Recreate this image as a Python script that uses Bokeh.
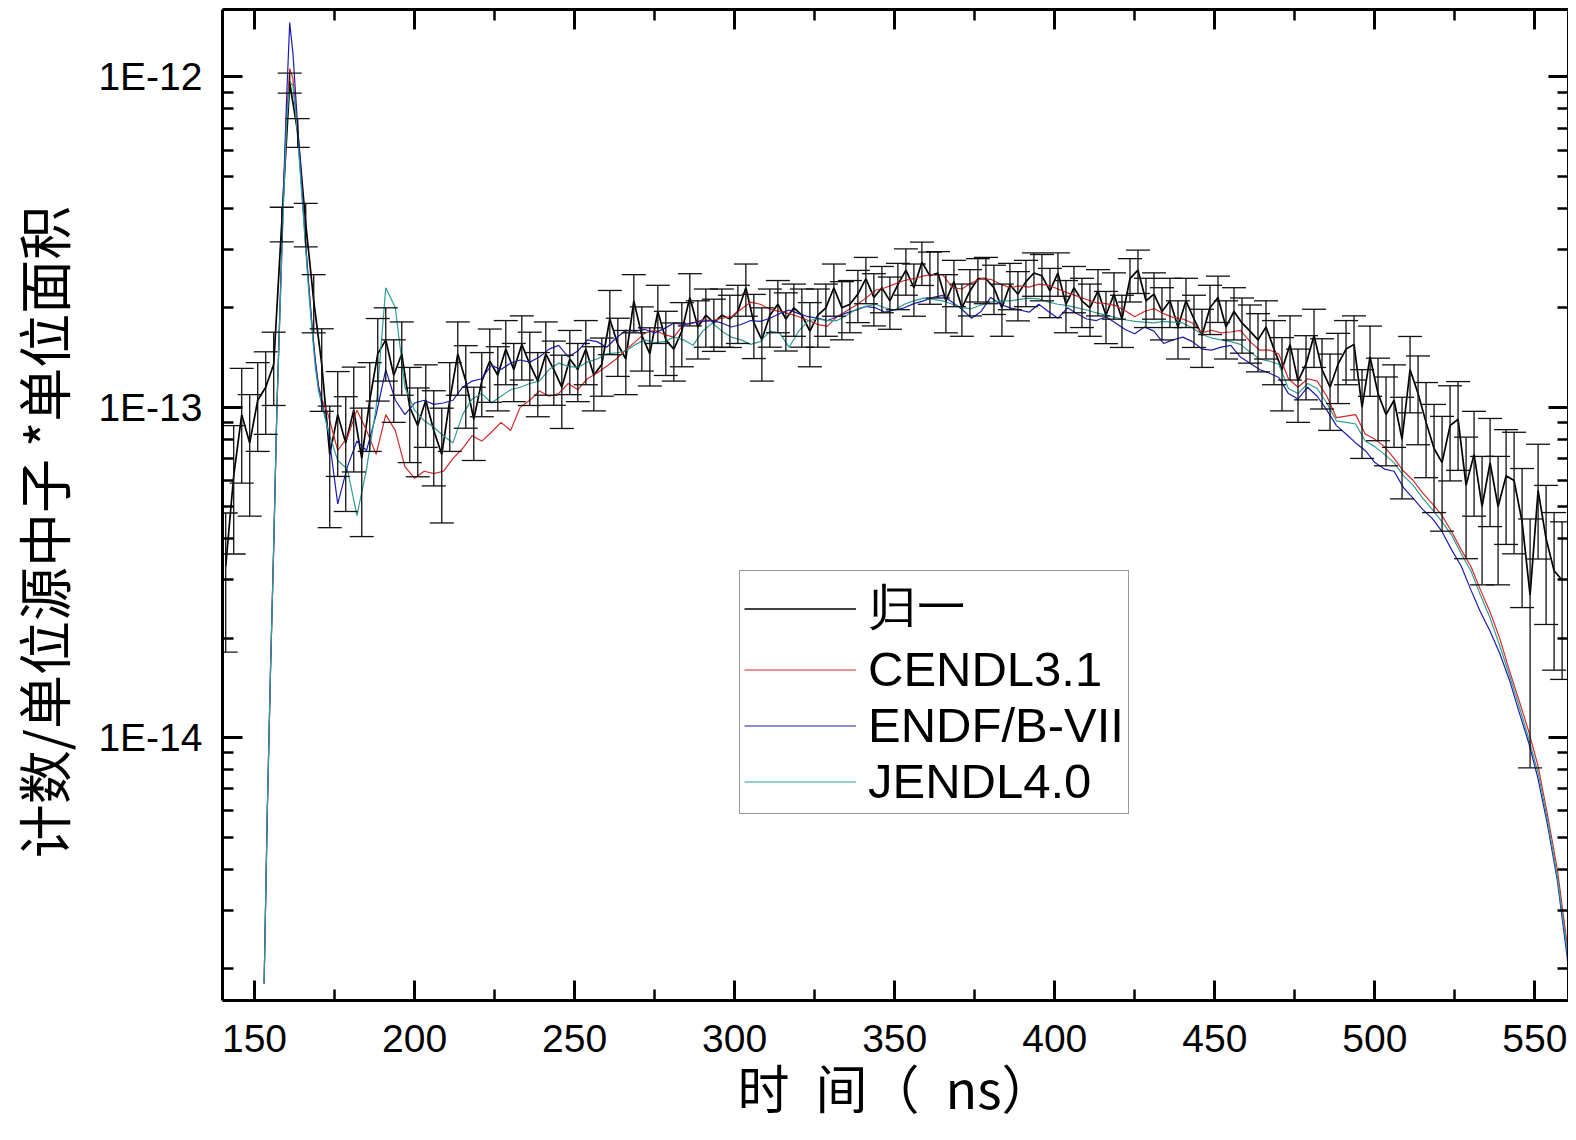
from bokeh.plotting import figure
from bokeh.models import (ColumnDataSource, Whisker, TeeHead, Legend, LegendItem,
                          LinearAxis, LogAxis, FixedTicker, CustomJSTickFormatter,
                          Range1d, SingleIntervalTicker)
from bokeh.embed import file_html
from bokeh.resources import INLINE

UNIT = 1e-13  # values below are given in units of 1E-13

# ---------------- experimental ("归一") ----------------
exp_x = [141 + 2.5 * i for i in range(168)]
exp_v = [
    0.33, 0.62, 0.95, 0.78, 1.05, 1.15, 1.35, 3.6, 9.6, 6.8,
    3.6, 2.1, 1.35, 0.72, 0.95, 0.78, 0.98, 0.70, 1.05, 1.45,
    1.60, 1.25, 1.45, 1.00, 0.88, 1.05, 0.85, 0.72, 1.05, 1.45,
    1.20, 0.92, 1.20, 1.38, 1.25, 1.50, 1.30, 1.55, 1.35, 1.20,
    1.45, 1.30, 1.15, 1.40, 1.30, 1.50, 1.25, 1.35, 1.85, 1.55,
    1.40, 2.10, 1.65, 1.45, 1.95, 1.60, 1.50, 1.70, 2.15, 1.75,
    1.90, 1.80, 1.90, 1.85, 1.95, 2.30, 1.80, 1.60, 1.90, 2.05,
    1.85, 2.00, 1.90, 1.70, 1.90, 2.00, 2.30, 2.00, 2.05, 2.20,
    2.45, 2.15, 2.30, 2.10, 2.35, 2.60, 2.30, 2.75, 2.50, 2.55,
    2.10, 2.40, 2.00, 2.25, 2.45, 2.45, 2.30, 2.00, 2.35, 2.20,
    2.40, 2.55, 2.50, 2.25, 2.55, 2.05, 2.30, 2.10, 2.00, 2.25,
    1.90, 2.20, 1.85, 2.45, 2.60, 2.10, 2.20, 1.95, 2.10, 1.75,
    2.10, 1.85, 1.65, 2.00, 2.15, 1.75, 1.95, 1.80, 1.70, 1.60,
    1.75, 1.50, 1.30, 1.55, 1.20, 1.35, 1.65, 1.30, 1.15, 1.35,
    1.50, 1.55, 1.00, 1.42, 1.10, 0.95, 1.05, 0.80, 1.30, 1.10,
    0.90, 0.75, 0.68, 0.88, 0.92, 0.58, 0.72, 0.50, 0.68, 0.50,
    0.62, 0.60, 0.45, 0.27, 0.56, 0.40, 0.32, 0.30,
]
exp_rel_err = [
    0.45, 0.42, 0.38, 0.40, 0.30, 0.28, 0.25, 0.12, 0.07, 0.10,
    0.15, 0.20, 0.28, 0.40, 0.35, 0.38, 0.35, 0.42, 0.30, 0.28,
    0.25, 0.28, 0.25, 0.32, 0.30, 0.28, 0.32, 0.38, 0.30, 0.25,
    0.28, 0.25, 0.22, 0.25, 0.22, 0.22, 0.20, 0.22, 0.25, 0.22,
    0.25, 0.22, 0.25, 0.22, 0.20, 0.22, 0.22, 0.20, 0.22, 0.20,
    0.22, 0.20, 0.22, 0.20, 0.20, 0.22, 0.20, 0.22, 0.18, 0.20,
    0.20, 0.18, 0.20, 0.18, 0.20, 0.18, 0.22, 0.25, 0.20, 0.18,
    0.20, 0.18, 0.20, 0.22, 0.20, 0.18, 0.18, 0.20, 0.18, 0.18,
    0.16, 0.18, 0.16, 0.18, 0.16, 0.16, 0.18, 0.15, 0.18, 0.16,
    0.20, 0.16, 0.18, 0.16, 0.15, 0.16, 0.17, 0.18, 0.16, 0.17,
    0.16, 0.15, 0.16, 0.17, 0.15, 0.18, 0.16, 0.17, 0.18, 0.16,
    0.18, 0.16, 0.18, 0.15, 0.15, 0.17, 0.16, 0.18, 0.17, 0.20,
    0.17, 0.18, 0.20, 0.17, 0.16, 0.20, 0.18, 0.19, 0.20, 0.20,
    0.20, 0.22, 0.25, 0.22, 0.25, 0.22, 0.20, 0.24, 0.26, 0.24,
    0.22, 0.22, 0.30, 0.24, 0.28, 0.30, 0.28, 0.34, 0.26, 0.30,
    0.32, 0.36, 0.38, 0.32, 0.30, 0.40, 0.35, 0.42, 0.36, 0.42,
    0.38, 0.40, 0.45, 0.70, 0.38, 0.45, 0.50, 0.50,
]

# ---------------- calculations ----------------
model_x = list(range(153, 172)) + list(range(173, 561, 3)) + [562]

cendl_v = [
    0.018, 0.06, 0.16, 0.38, 1.0, 2.0, 4.2, 7.6, 10.6, 9.9,
    7.8, 5.8, 4.3, 3.1, 2.3, 1.75, 1.38, 1.16, 1.06,
    0.95, 0.74, 0.81, 0.98, 0.85, 0.72, 0.95, 0.85, 0.66, 0.61,
    0.64, 0.63, 0.64, 0.70, 0.75, 0.82, 0.79, 0.84, 0.90, 0.85,
    1.00, 1.05, 1.12, 1.08, 1.10, 1.18, 1.13, 1.22, 1.27, 1.33,
    1.40, 1.49, 1.58, 1.68, 1.71, 1.66, 1.63, 1.78, 1.80, 1.84,
    1.83, 1.86, 1.88, 1.98, 2.08, 2.05, 1.98, 1.95, 1.92, 1.88,
    1.83, 1.78, 1.76, 1.88, 1.96, 2.04, 2.14, 2.26, 2.30, 2.36,
    2.42, 2.45, 2.50, 2.52, 2.52, 2.30, 2.28, 2.38, 2.45, 2.44,
    2.36, 2.30, 2.33, 2.31, 2.36, 2.34, 2.28, 2.22, 2.17, 2.12,
    2.07, 2.06, 2.03, 1.96, 1.88, 1.95, 1.99, 1.92, 1.87, 1.85,
    1.80, 1.68, 1.71, 1.68, 1.69, 1.71, 1.58, 1.49, 1.49, 1.45,
    1.22, 1.15, 1.22, 1.20, 1.08, 0.93, 0.94, 0.95, 0.83, 0.80,
    0.76, 0.70, 0.64, 0.60, 0.55, 0.51, 0.47, 0.42, 0.37, 0.33,
    0.28, 0.24, 0.20, 0.16, 0.13, 0.105, 0.082, 0.058, 0.040, 0.024,
    0.015,
]
endf_v = [
    0.018, 0.06, 0.16, 0.38, 1.0, 2.1, 4.4, 8.5, 14.6, 11.8,
    8.4, 6.0, 4.3, 3.1, 2.3, 1.75, 1.38, 1.15, 1.05,
    0.85, 0.51, 0.66, 0.79, 0.74, 0.95, 1.30, 1.05, 0.95, 1.03,
    1.05, 1.02, 1.03, 1.05, 1.15, 1.20, 1.22, 1.34, 1.30, 1.36,
    1.39, 1.37, 1.42, 1.50, 1.54, 1.42, 1.48, 1.60, 1.58, 1.52,
    1.62, 1.71, 1.70, 1.72, 1.68, 1.73, 1.80, 1.78, 1.80, 1.82,
    1.83, 1.80, 1.75, 1.78, 1.83, 1.82, 1.86, 1.92, 1.97, 1.92,
    1.88, 1.86, 1.83, 1.88, 1.93, 1.97, 2.02, 2.00, 1.94, 1.97,
    2.00, 2.06, 2.10, 2.15, 2.18, 2.08, 1.98, 1.86, 1.95, 2.15,
    2.05, 2.00, 1.97, 1.94, 2.05, 1.95, 1.86, 2.00, 1.92, 1.85,
    1.83, 1.88, 1.80, 1.72, 1.67, 1.75, 1.70, 1.56, 1.60, 1.63,
    1.58, 1.50, 1.49, 1.52, 1.54, 1.42, 1.36, 1.30, 1.27, 1.23,
    1.10, 1.06, 1.15, 1.08, 0.98, 0.88, 0.83, 0.78, 0.74, 0.68,
    0.65, 0.64, 0.57, 0.53, 0.49, 0.46, 0.42, 0.37, 0.33, 0.28,
    0.24, 0.21, 0.18, 0.15, 0.12, 0.097, 0.075, 0.054, 0.037, 0.022,
    0.014,
]
jendl_v = [
    0.018, 0.06, 0.16, 0.38, 1.0, 2.0, 4.0, 7.2, 9.7, 9.4,
    7.5, 5.6, 4.1, 3.0, 2.2, 1.7, 1.32, 1.12, 1.02,
    0.85, 0.69, 0.65, 0.47, 0.65, 1.00, 2.30, 2.00, 1.15, 0.98,
    0.91, 0.87, 0.82, 0.78, 0.95, 1.06, 1.10, 1.03, 1.08, 1.13,
    1.15, 1.18, 1.20, 1.30, 1.36, 1.33, 1.32, 1.37, 1.40, 1.45,
    1.46, 1.48, 1.55, 1.60, 1.57, 1.58, 1.63, 1.60, 1.54, 1.70,
    1.80, 1.70, 1.63, 1.60, 1.55, 1.58, 1.70, 1.68, 1.52, 1.70,
    1.83, 1.85, 1.83, 1.83, 1.90, 1.98, 2.02, 2.05, 2.00, 1.97,
    2.05, 2.10, 2.14, 2.12, 2.10, 2.05, 2.00, 1.99, 2.04, 2.08,
    2.10, 2.10, 2.12, 2.14, 2.13, 2.08, 2.05, 2.03, 2.00, 1.97,
    1.93, 1.90, 1.87, 1.84, 1.82, 1.81, 1.80, 1.82, 1.81, 1.80,
    1.74, 1.66, 1.62, 1.60, 1.58, 1.55, 1.47, 1.40, 1.38, 1.35,
    1.14, 1.10, 1.18, 1.14, 1.03, 0.91, 0.90, 0.89, 0.79, 0.76,
    0.72, 0.68, 0.62, 0.58, 0.53, 0.49, 0.45, 0.41, 0.36, 0.32,
    0.27, 0.23, 0.19, 0.155, 0.125, 0.10, 0.078, 0.056, 0.038, 0.023,
    0.0145,
]

series_names = ["归一", "CENDL3.1", "ENDF/B-VII", "JENDL4.0"]
series_colors = ["#000000", "#d42a2a", "#1c1cb0", "#2f9e94"]

x_ticks_interval = 50
y_major_ticks = [1e-14, 1e-13, 1e-12]
y_minor_ticks = [m * 10.0 ** e for e in (-15, -14, -13) for m in range(2, 10)]

x_title = "时\u2002间（\u2002ns）"
y_title = "计数/单位源中子 *单位面积\u3000"

assert len(exp_v) == len(exp_x) == len(exp_rel_err)
assert len(cendl_v) == len(endf_v) == len(jendl_v) == len(model_x)

# ---------------- figure ----------------
p = figure(width=1568, height=1136,
           x_range=Range1d(140, 560.5), y_range=Range1d(1.6e-15, 1.6e-12),
           y_axis_type="log", output_backend="svg", toolbar_location=None,
           min_border_left=215, min_border_right=0, min_border_top=9,
           min_border_bottom=136)
p.grid.visible = False
p.outline_line_color = None
p.background_fill_color = "white"
p.border_fill_color = "white"

exp_y = [v * UNIT for v in exp_v]
exp_src = ColumnDataSource(dict(
    x=exp_x, y=exp_y,
    lower=[v * UNIT * (1 - e) for v, e in zip(exp_v, exp_rel_err)],
    upper=[v * UNIT * (1 + e) for v, e in zip(exp_v, exp_rel_err)],
))

whisk = Whisker(base="x", lower="lower", upper="upper", source=exp_src,
                dimension="height", line_color="#111111", line_width=1.3,
                upper_head=TeeHead(size=24, line_color="#111111", line_width=1.3),
                lower_head=TeeHead(size=24, line_color="#111111", line_width=1.3))
whisk.level = "glyph"
p.add_layout(whisk)

r_exp = p.line("x", "y", source=exp_src, line_color=series_colors[0], line_width=1.7)

renderers = [r_exp]
for vals, col in zip([cendl_v, endf_v, jendl_v], series_colors[1:]):
    src = ColumnDataSource(dict(x=model_x, y=[v * UNIT for v in vals]))
    renderers.append(p.line("x", "y", source=src, line_color=col, line_width=1.2))

# ---------------- axes ----------------
tick_font = "Liberation Sans"
xticker = SingleIntervalTicker(interval=x_ticks_interval, num_minor_ticks=2)
yticker = FixedTicker(ticks=y_major_ticks, minor_ticks=y_minor_ticks)
yfmt = CustomJSTickFormatter(code="return '1E' + Math.round(Math.log10(tick));")


def style_axis(ax, show_labels):
    ax.axis_line_width = 3
    ax.axis_line_color = "black"
    ax.major_tick_line_width = 3
    ax.minor_tick_line_width = 2.5
    ax.major_tick_in = 20
    ax.major_tick_out = 0
    ax.minor_tick_in = 11
    ax.minor_tick_out = 0
    if show_labels:
        ax.major_label_text_font = tick_font
        ax.major_label_text_font_size = "39px"
        ax.major_label_text_color = "black"
    else:
        ax.major_label_text_font_size = "1px"
        ax.major_label_text_color = None
        ax.major_label_standoff = 0
        ax.axis_label_standoff = 0


xa = p.xaxis[0]
xa.ticker = xticker
style_axis(xa, True)
xa.major_label_standoff = 24
xa.axis_label = x_title
xa.axis_label_text_font = "Noto Sans CJK SC"
xa.axis_label_text_font_size = "52px"
xa.axis_label_text_font_style = "normal"
xa.axis_label_text_color = "black"
xa.axis_label_standoff = -6

ya = p.yaxis[0]
ya.ticker = yticker
ya.formatter = yfmt
style_axis(ya, True)
ya.major_label_standoff = 20
ya.axis_label = y_title
ya.axis_label_text_font = "Noto Sans CJK SC"
ya.axis_label_text_font_size = "54px"
ya.axis_label_text_font_style = "normal"
ya.axis_label_text_color = "black"
ya.axis_label_standoff = 13

top_ax = LinearAxis(ticker=SingleIntervalTicker(interval=x_ticks_interval, num_minor_ticks=2))
style_axis(top_ax, False)
p.add_layout(top_ax, "above")

right_ax = LogAxis(ticker=FixedTicker(ticks=y_major_ticks, minor_ticks=y_minor_ticks))
style_axis(right_ax, False)
p.add_layout(right_ax, "right")

# ---------------- legend ----------------
legend = Legend(
    items=[LegendItem(label=n, renderers=[r]) for n, r in zip(series_names, renderers)],
    location=(517, 186),
    label_text_font="Liberation Sans",
    label_text_font_size="49px",
    label_text_color="black",
    glyph_width=112, glyph_height=55, label_height=55, label_width=256,
    label_standoff=12, spacing=0, padding=4, margin=0,
    border_line_color="#333333", border_line_width=1.5,
    background_fill_color="white", background_fill_alpha=1.0,
)
p.add_layout(legend)

open("out.html", "w").write(file_html(p, INLINE))
